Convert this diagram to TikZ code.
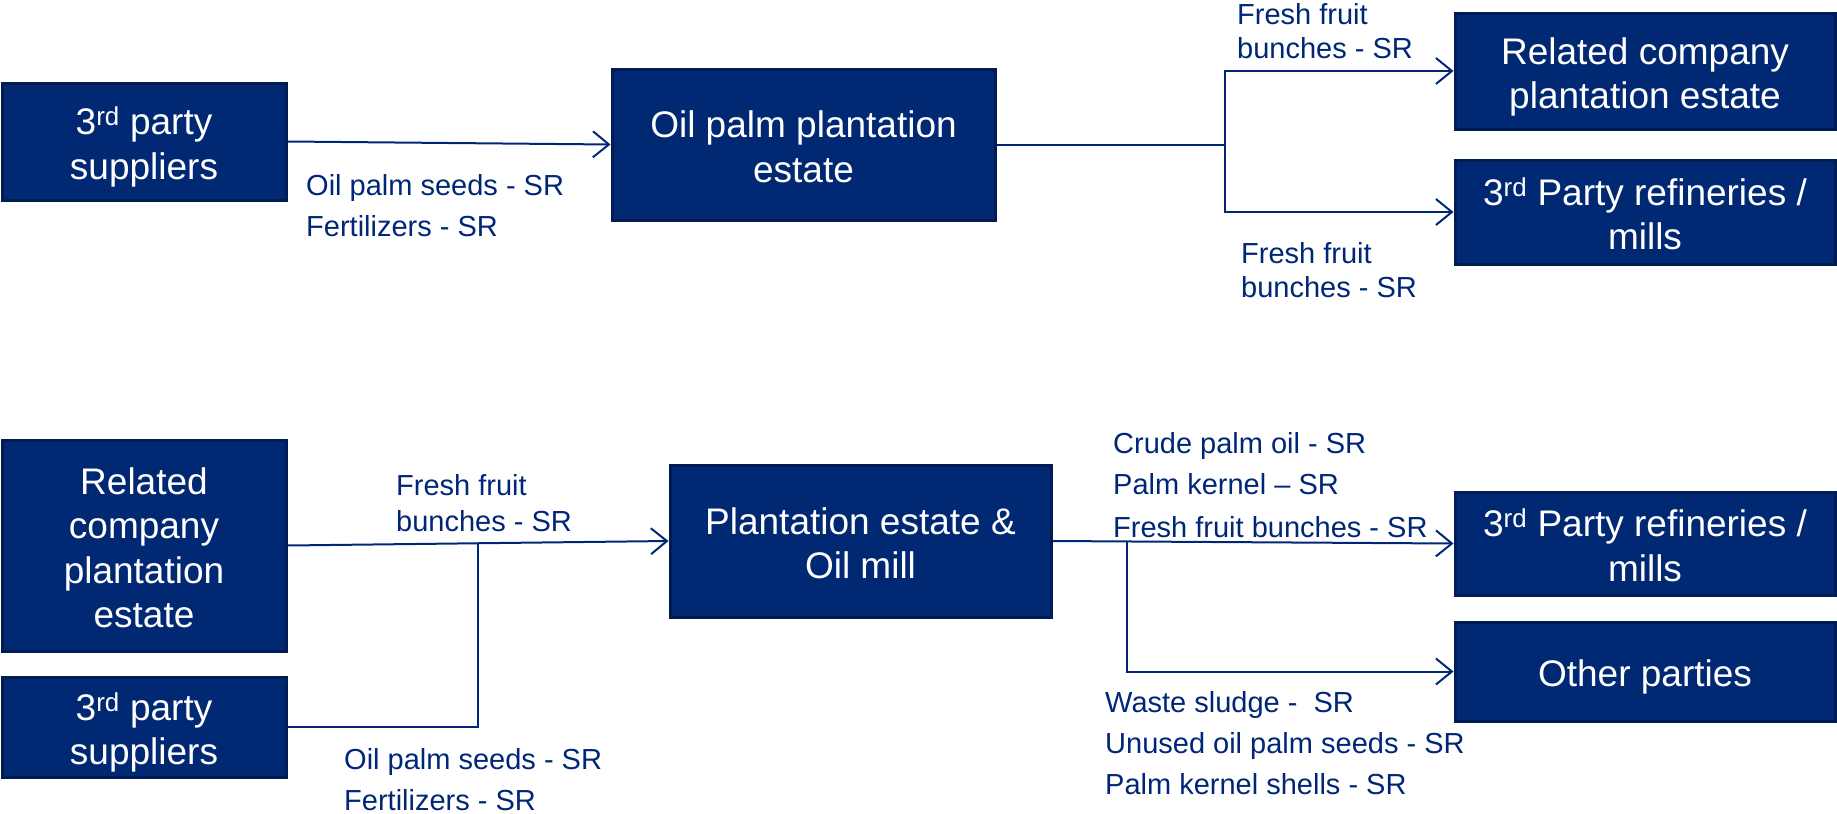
\documentclass[tikz,border=0pt]{standalone}
\usepackage{fontspec}
\setmainfont{Liberation Sans}
\usetikzlibrary{arrows.meta}
\definecolor{boxfill}{RGB}{0,40,115}
\definecolor{boxedge}{RGB}{0,28,82}
\definecolor{navy}{RGB}{0,38,120}
\newcommand\topstrut{\rule{0pt}{38.6pt}}
\newcommand\botstrut{\rule[-8pt]{0pt}{8pt}}
\tikzset{
  box/.style={rectangle, fill=boxfill, draw=boxedge, line width=3pt, text=white,
    align=center, inner sep=0pt, font=\fontsize{37}{44.5}\selectfont},
  lab/.style={anchor=base west, inner sep=0pt, text=navy, font=\fontsize{29}{34}\selectfont},
  conn/.style={draw=navy, line width=2pt},
  arr/.style={conn, -{Straight Barb[length=16pt,width=26pt,line width=2pt]}},
}
\begin{document}
\begin{tikzpicture}[x=1pt,y=-1pt]
\useasboundingbox (0,0) rectangle (1837,814);
% top row
\node[box, minimum width=284, minimum height=117] (A) at (144,141.5) {\topstrut 3\textsuperscript{rd} party\\suppliers\botstrut};
\node[box, minimum width=383, minimum height=151] (B) at (803.5,144.5) {\topstrut Oil palm plantation\\estate\botstrut};
\node[box, minimum width=380, minimum height=116] (C) at (1645,71) {\topstrut Related company\\plantation estate\botstrut};
\node[box, minimum width=380, minimum height=104] (D) at (1645,212) {\topstrut 3\textsuperscript{rd} Party refineries /\\mills\botstrut};
% bottom row
\node[box, minimum width=284, minimum height=211] (E) at (144,545.5) {\topstrut Related\\company\\plantation\\estate\botstrut};
\node[box, minimum width=284, minimum height=100] (F) at (144,727) {\topstrut 3\textsuperscript{rd} party\\suppliers\botstrut};
\node[box, minimum width=381, minimum height=152] (G) at (860.5,541) {\topstrut Plantation estate \&\\Oil mill\botstrut};
\node[box, minimum width=380, minimum height=103] (H) at (1645,543.5) {\topstrut 3\textsuperscript{rd} Party refineries /\\mills\botstrut};
\node[box, minimum width=380, minimum height=99] (I) at (1645,671.5) {\topstrut Other parties\botstrut};
% connectors top
\draw[arr] (A.east) -- (B.west);
\coordinate (j1) at (1225,144.5);
\draw[conn] (B.east) -- (j1);
\draw[arr] (j1) |- (C.west);
\draw[arr] (j1) |- (D.west);
% connectors bottom
\draw[arr] (E.east) -- (G.west);
\coordinate (j2) at (478,543.5);
\draw[conn] (F.east) -| (j2);
\coordinate (j3) at (1127,541.6);
\draw[arr] (G.east) -- (H.west);
\draw[arr] (j3) |- (I.west);
% labels top
\node[lab] (t1) at (306,195) {Oil palm seeds - SR};
\node[lab] (t2) at (306,236) {Fertilizers - SR};
\node[lab] (t3) at (1237,24) {Fresh fruit};
\node[lab] (t4) at (1237,58) {bunches - SR};
\node[lab] (t5) at (1241,263) {Fresh fruit};
\node[lab] (t6) at (1241,297) {bunches - SR};
% labels bottom
\node[lab] (b1) at (396,495) {Fresh fruit};
\node[lab] (b2) at (396,531) {bunches - SR};
\node[lab] (b3) at (344,769) {Oil palm seeds - SR};
\node[lab] (b4) at (344,810) {Fertilizers - SR};
\node[lab] (b5) at (1113,453) {Crude palm oil - SR};
\node[lab] (b6) at (1113,494) {Palm kernel – SR};
\node[lab] (b7) at (1113,537) {Fresh fruit bunches - SR};
\node[lab] (b8) at (1105,712) {Waste sludge - \ SR};
\node[lab] (b9) at (1105,753) {Unused oil palm seeds - SR};
\node[lab] (b10) at (1105,794) {Palm kernel shells - SR};
\end{tikzpicture}
\end{document}
